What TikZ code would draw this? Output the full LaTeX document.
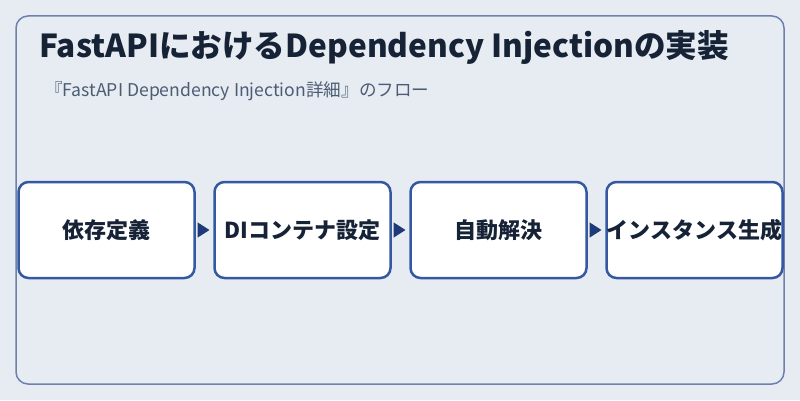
\documentclass[tikz,border=0pt]{standalone}
\usepackage{fontspec}
\setmainfont{Noto Sans CJK JP}
\usetikzlibrary{positioning, arrows.meta}
\definecolor{bgcol}{HTML}{E7ECF2}
\definecolor{framecol}{HTML}{6B82AC}
\definecolor{boxline}{HTML}{3458A2}
\definecolor{flowcol}{HTML}{1F3A78}
\definecolor{inkcol}{HTML}{162236}
\definecolor{subcol}{HTML}{4C5C74}

\begin{document}
\begin{tikzpicture}[x=1pt, y=1pt,
    stepbox/.style={draw=boxline, line width=2.5pt, fill=white, rounded corners=10pt,
        minimum width=176pt, minimum height=96pt, inner sep=0pt, outer sep=0pt, text=inkcol,
        font=\bfseries\fontsize{22}{26}\selectfont},
    flow/.style={draw=flowcol, line width=1.5pt, shorten <=3pt, shorten >=5pt,
        -{Triangle[length=12pt, width=15pt]}}]
    % background and frame
    \fill[bgcol] (0,0) rectangle (800,400);
    \useasboundingbox (0,0) rectangle (800,400);
    \draw[framecol, line width=1.5pt, rounded corners=12pt] (16,16) rectangle (784,384);
    % title
    \node[anchor=base west, inner sep=0pt, text=inkcol, font=\bfseries\fontsize{31.6}{36}\selectfont]
        (title) at (39,343) {FastAPIにおけるDependency Injectionの実装};
    \node[anchor=base west, inner sep=0pt, text=subcol, font=\fontsize{17.6}{21}\selectfont]
        (sub) at (45,304) {『FastAPI Dependency Injection詳細』のフロー};
    % steps
    \node[stepbox] (define) at (106.5,170) {依存定義};
    \node[stepbox, right=20pt of define] (container) {DIコンテナ設定};
    \node[stepbox, right=20pt of container] (resolve) {自動解決};
    \node[stepbox, right=20pt of resolve] (instance) {インスタンス生成};
    \draw[flow] (define) -- (container);
    \draw[flow] (container) -- (resolve);
    \draw[flow] (resolve) -- (instance);
\end{tikzpicture}
\end{document}
